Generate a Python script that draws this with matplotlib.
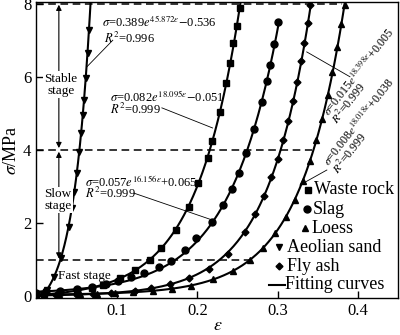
import numpy as np
import matplotlib
matplotlib.use('Agg')
import matplotlib.pyplot as plt

plt.rcParams['font.family'] = ['Liberation Serif', 'DejaVu Serif']
plt.rcParams['mathtext.fontset'] = 'stix'


wasteStrain = [0.0, 0.009, 0.029, 0.050, 0.069, 0.083, 0.104, 0.122, 0.141, 0.155, 0.174,
               0.190, 0.201, 0.213, 0.218, 0.228, 0.236, 0.241, 0.245, 0.249, 0.253]
wasteStress = [0.03, 0.05, 0.11, 0.18, 0.22, 0.31, 0.49, 0.71, 1.00, 1.33, 1.82,
               2.43, 3.10, 3.78, 4.25, 5.05, 5.82, 6.38, 6.92, 7.40, 7.88]

slagStrain = [0.0, 0.012, 0.030, 0.050, 0.069, 0.086, 0.101, 0.118, 0.134, 0.153, 0.167, 0.185,
              0.199, 0.218, 0.232, 0.243, 0.252, 0.261, 0.271, 0.280, 0.287, 0.290, 0.295, 0.300]
slagStress = [0.10, 0.13, 0.15, 0.20, 0.25, 0.33, 0.42, 0.53, 0.64, 0.79, 0.97, 1.26,
              1.58, 2.04, 2.49, 2.92, 3.38, 3.92, 4.58, 5.32, 5.88, 6.33, 6.90, 7.49]

loessStrain = [0.0, 0.028, 0.054, 0.076, 0.098, 0.120, 0.145, 0.168, 0.192, 0.220, 0.245, 0.265, 0.282,
               0.297, 0.310, 0.321, 0.331, 0.340, 0.348, 0.355, 0.362, 0.368, 0.374, 0.379, 0.383]
loessStress = [0.05, 0.05, 0.06, 0.07, 0.09, 0.11, 0.15, 0.20, 0.29, 0.46, 0.70, 0.99, 1.33,
               1.73, 2.17, 2.64, 3.16, 3.71, 4.28, 4.85, 5.49, 6.12, 6.81, 7.45, 7.95]

aeolianStrain = [0.008, 0.013, 0.022, 0.0305, 0.040, 0.044, 0.047, 0.050,
                 0.0533, 0.0557, 0.0578, 0.0593, 0.0614, 0.0636, 0.0654]
aeolianStress = [0.05, 0.16, 0.52, 1.04, 1.89, 2.41, 2.85, 3.37,
                 3.95, 4.47, 4.96, 5.37, 5.97, 6.66, 7.29]

flyashStrain = [0.0, 0.025, 0.050, 0.070, 0.093, 0.122, 0.143, 0.166, 0.190, 0.215, 0.238, 0.259,
                0.272, 0.283, 0.292, 0.300, 0.307, 0.313, 0.319, 0.324, 0.329, 0.333, 0.337, 0.3405]
flyashStress = [0.02, 0.03, 0.04, 0.06, 0.09, 0.15, 0.22, 0.34, 0.49, 0.74, 1.15, 1.76,
                2.25, 2.75, 3.25, 3.76, 4.28, 4.78, 5.35, 5.86, 6.43, 6.92, 7.46, 7.95]

# fitted curves sigma = a*exp(b*eps) + c, with strain range of each fit
wasteFit = (0.082, 18.095, -0.051)
slagFit = (0.057, 16.156, 0.065)
loessFit = (0.008, 18.018, 0.038)
aeolianFit = (0.389, 45.872, -0.536)
flyashFit = (0.015, 18.398, 0.005)
wasteRange = (0.0, 0.2535)
slagRange = (0.0, 0.3015)
loessRange = (0.0, 0.383)
aeolianRange = (0.0068, 0.0673)
flyashRange = (0.0, 0.341)

# stage boundaries (dashed lines) and where they stop
stageLevels = [1, 4, 8]
stageEnds = [0.27, 0.343, 0.38]


def fitCurve(fit, rng):
    eps = np.linspace(rng[0], rng[1], 200)
    return eps, fit[0] * np.exp(fit[1] * eps) + fit[2]


fig = plt.figure(figsize=(4.0, 3.35), dpi=100)
ax = fig.add_axes([0.0908, 0.1104, 0.9054, 0.8842])

for fit, rng in [(wasteFit, wasteRange), (slagFit, slagRange), (loessFit, loessRange),
                 (aeolianFit, aeolianRange), (flyashFit, flyashRange)]:
    x, y = fitCurve(fit, rng)
    ax.plot(x, y, color='k', lw=1.5, zorder=3)

ax.plot(wasteStrain, wasteStress, 's', color='k', ms=5, ls='none', zorder=4)
ax.plot(slagStrain, slagStress, 'o', color='k', ms=5, ls='none', zorder=4)
ax.plot(loessStrain, loessStress, '^', color='k', ms=5, ls='none', zorder=4)
ax.plot(aeolianStrain, aeolianStress, 'v', color='k', ms=5, ls='none', zorder=4)
ax.plot(flyashStrain, flyashStress, 'D', color='k', ms=3.5, ls='none', zorder=4)

ax.hlines(stageLevels, 0, stageEnds, colors='k', linestyles=(0, (5, 3)), lw=1.1, zorder=2)

# stage arrows
ax.annotate('', xy=(0.028, 7.97), xytext=(0.028, 4.05),
            arrowprops=dict(arrowstyle='<|-|>', color='k', lw=0.8, mutation_scale=8,
                            shrinkA=0, shrinkB=0))
ax.annotate('', xy=(0.028, 3.95), xytext=(0.028, 1.03),
            arrowprops=dict(arrowstyle='<|-|>', color='k', lw=0.8, mutation_scale=8,
                            shrinkA=0, shrinkB=0))
ax.text(0.0305, 5.78, 'Stable\nstage', ha='center', va='center', fontsize=9.5, linespacing=1.0,
        bbox=dict(facecolor='white', edgecolor='none', pad=1.0), zorder=5)
ax.text(0.0266, 2.63, 'Slow\nstage', ha='center', va='center', fontsize=9.5, linespacing=1.0,
        bbox=dict(facecolor='white', edgecolor='none', pad=1.0), zorder=5)
ax.text(0.027, 0.55, 'Fast stage', ha='left', va='center', fontsize=9.5, zorder=5)

# equations with leader lines
ax.text(0.082, 7.5, r'$\sigma$=0.389$e^{45.872\varepsilon}$$-$0.536', fontsize=9, va='center')
ax.text(0.084, 7.05, r'$R^2$=0.996', fontsize=9, va='center')
ax.plot([0.0627, 0.095], [6.27, 7.0], color='k', lw=0.6)

ax.text(0.092, 5.45, r'$\sigma$=0.082$e^{18.095\varepsilon}$$-$0.051', fontsize=9, va='center')
ax.text(0.092, 5.12, r'$R^2$=0.999', fontsize=9, va='center')
ax.plot([0.156, 0.219], [5.15, 4.6], color='k', lw=0.6)

ax.text(0.060, 3.12, r'$\sigma$=0.057$e^{16.156\varepsilon}$+0.065', fontsize=9, va='center')
ax.text(0.060, 2.8, r'$R^2$=0.999', fontsize=9, va='center')
ax.plot([0.121, 0.219], [2.82, 2.08], color='k', lw=0.6)

ax.text(0.364, 4.92, r'$\sigma$=0.015$e^{18.398\varepsilon}$+0.005', fontsize=8.6, rotation=52,
        rotation_mode='anchor', ha='left', va='baseline')
ax.text(0.3745, 4.68, r'$R^2$=0.999', fontsize=8.6, rotation=52,
        rotation_mode='anchor', ha='left', va='baseline')
ax.plot([0.336, 0.3897], [6.68, 6.0], color='k', lw=0.6)

ax.text(0.364, 3.55, r'$\sigma$=0.008$e^{18.018\varepsilon}$+0.038', fontsize=8.6, rotation=52,
        rotation_mode='anchor', ha='left', va='baseline')
ax.text(0.3755, 3.32, r'$R^2$=0.999', fontsize=8.6, rotation=52,
        rotation_mode='anchor', ha='left', va='baseline')
ax.plot([0.3276, 0.361], [3.04, 3.45], color='k', lw=0.6)

# legend drawn by hand to keep the original's staggered layout
legendMarkers = ['s', 'o', '^', 'v', 'D']
legendLabels = ['Waste rock', 'Slag', 'Loess', 'Aeolian sand', 'Fly ash']
legendMarkerX = [0.750, 0.747, 0.742, 0.670, 0.670]
legendTextX = [0.768, 0.762, 0.759, 0.693, 0.693]
legendY = [0.365, 0.300, 0.236, 0.172, 0.108]
for m, lab, mx, tx, ly in zip(legendMarkers, legendLabels, legendMarkerX, legendTextX, legendY):
    ax.plot([mx], [ly], m, color='k', ms=5 if m != 'D' else 3.5, transform=ax.transAxes, clip_on=False)
    ax.text(tx, ly, lab, transform=ax.transAxes, fontsize=13, va='center', ha='left')
ax.plot([0.642, 0.687], [0.044, 0.044], color='k', lw=1.5, transform=ax.transAxes)
ax.text(0.687, 0.044, 'Fitting curves', transform=ax.transAxes, fontsize=13, va='center', ha='left')

ax.set_xlim(0, 0.45)
ax.set_ylim(-0.05, 8.05)
ax.set_xticks([0.1, 0.2, 0.3, 0.4])
ax.set_xticklabels(['0.1', '0.2', '0.3', '0.4'])
ax.set_yticks([0, 2, 4, 6, 8])
ax.tick_params(direction='in', length=5, width=1, labelsize=12, top=False, right=False)
for s in ax.spines.values():
    s.set_linewidth(1.0)
ax.set_xlabel(r'$\varepsilon$', fontsize=13, labelpad=-1)
ax.set_ylabel(r'$\sigma$/MPa', fontsize=13, labelpad=2)

fig.savefig('out.png', dpi=100)
